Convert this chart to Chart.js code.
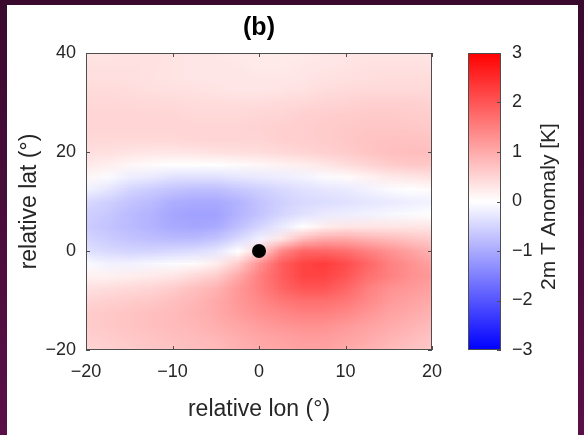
<!DOCTYPE html>
<html lang="en">
<head>
<meta charset="UTF-8">
<title>(b) 2m T Anomaly</title>
<script src="https://cdn.jsdelivr.net/npm/chart.js@4"></script>
<style>
    body {
        margin: 0;
        width: 584px;
        height: 435px;
        overflow: hidden;
        position: relative;
        background: linear-gradient(#3a0a2e, #5a0f48);
    }
    .sheet {
        position: absolute;
        left: 7px;
        top: 5px;
        width: 571px;
        height: 430px;
        background: #ffffff;
    }
    .wrap {
        position: absolute;
        left: 0;
        top: 0;
        width: 584px;
        height: 435px;
    }
</style>
</head>
<body>
<div class="sheet"></div>
<div class="wrap"><canvas id="anomalyChart"></canvas></div>
<script>
// grid of the composite, 2.5 deg spacing
const lonValues = [-20, -17.5, -15, -12.5, -10, -7.5, -5, -2.5, 0, 2.5, 5, 7.5, 10, 12.5, 15, 17.5, 20];
const latValues = [40, 37.5, 35, 32.5, 30, 27.5, 25, 22.5, 20, 17.5, 15, 12.5, 10, 7.5, 5, 2.5, 0, -2.5, -5, -7.5, -10, -12.5, -15, -17.5, -20];
// one row per latitude (north to south), one value per longitude (west to east), in K
const anomalyRows = [
    [0.30, 0.32, 0.35, 0.35, 0.32, 0.30, 0.28, 0.25, 0.25, 0.25, 0.25, 0.28, 0.30, 0.30, 0.30, 0.30, 0.30],
    [0.35, 0.35, 0.35, 0.35, 0.32, 0.30, 0.30, 0.28, 0.25, 0.25, 0.28, 0.30, 0.32, 0.35, 0.35, 0.35, 0.35],
    [0.38, 0.38, 0.36, 0.34, 0.32, 0.30, 0.30, 0.30, 0.28, 0.28, 0.30, 0.34, 0.36, 0.38, 0.40, 0.40, 0.40],
    [0.42, 0.42, 0.40, 0.38, 0.36, 0.35, 0.32, 0.30, 0.30, 0.32, 0.35, 0.40, 0.42, 0.45, 0.45, 0.45, 0.45],
    [0.45, 0.45, 0.45, 0.44, 0.42, 0.40, 0.40, 0.40, 0.40, 0.42, 0.45, 0.50, 0.52, 0.55, 0.55, 0.55, 0.52],
    [0.50, 0.50, 0.50, 0.48, 0.48, 0.45, 0.45, 0.45, 0.48, 0.50, 0.55, 0.58, 0.60, 0.62, 0.62, 0.60, 0.58],
    [0.50, 0.50, 0.50, 0.50, 0.50, 0.50, 0.50, 0.50, 0.52, 0.55, 0.58, 0.60, 0.64, 0.66, 0.66, 0.65, 0.62],
    [0.45, 0.45, 0.45, 0.45, 0.45, 0.48, 0.50, 0.50, 0.50, 0.55, 0.58, 0.60, 0.65, 0.70, 0.72, 0.72, 0.70],
    [0.38, 0.36, 0.32, 0.30, 0.30, 0.32, 0.35, 0.38, 0.40, 0.45, 0.50, 0.55, 0.60, 0.68, 0.74, 0.76, 0.75],
    [0.25, 0.20, 0.10, 0.05, 0.00, 0.00, 0.00, 0.05, 0.10, 0.15, 0.20, 0.30, 0.40, 0.50, 0.60, 0.65, 0.65],
    [0.10, -0.05, -0.20, -0.25, -0.35, -0.35, -0.35, -0.30, -0.25, -0.20, -0.15, -0.05, 0.05, 0.15, 0.25, 0.30, 0.35],
    [-0.15, -0.30, -0.50, -0.60, -0.70, -0.75, -0.75, -0.65, -0.55, -0.45, -0.35, -0.30, -0.25, -0.15, -0.05, 0.00, 0.05],
    [-0.45, -0.55, -0.70, -0.80, -0.95, -1.00, -1.00, -0.90, -0.70, -0.55, -0.45, -0.40, -0.35, -0.30, -0.25, -0.20, -0.15],
    [-0.55, -0.65, -0.80, -0.90, -1.05, -1.10, -1.10, -0.90, -0.70, -0.50, -0.35, -0.25, -0.20, -0.15, -0.10, -0.05, 0.00],
    [-0.60, -0.70, -0.80, -0.90, -1.00, -1.05, -1.00, -0.75, -0.50, -0.25, 0.00, 0.20, 0.30, 0.30, 0.30, 0.30, 0.30],
    [-0.50, -0.60, -0.70, -0.75, -0.80, -0.80, -0.70, -0.45, -0.15, 0.30, 0.80, 1.00, 1.00, 0.90, 0.80, 0.70, 0.60],
    [-0.35, -0.45, -0.50, -0.50, -0.45, -0.40, -0.30, 0.00, 0.50, 1.40, 1.80, 1.80, 1.70, 1.50, 1.30, 1.10, 0.90],
    [-0.05, -0.15, -0.15, -0.10, -0.05, 0.05, 0.20, 0.60, 1.30, 1.90, 2.20, 2.30, 2.10, 1.80, 1.50, 1.30, 1.10],
    [0.15, 0.15, 0.20, 0.25, 0.30, 0.45, 0.60, 1.00, 1.50, 1.90, 2.20, 2.20, 2.00, 1.70, 1.50, 1.30, 1.20],
    [0.35, 0.40, 0.45, 0.50, 0.60, 0.75, 0.90, 1.20, 1.50, 1.80, 2.00, 2.00, 1.80, 1.50, 1.30, 1.20, 1.10],
    [0.50, 0.55, 0.60, 0.65, 0.75, 0.85, 1.00, 1.20, 1.40, 1.60, 1.70, 1.70, 1.60, 1.40, 1.20, 1.10, 1.00],
    [0.60, 0.65, 0.70, 0.75, 0.80, 0.90, 1.00, 1.15, 1.30, 1.40, 1.50, 1.50, 1.40, 1.25, 1.10, 1.00, 0.90],
    [0.60, 0.65, 0.70, 0.75, 0.80, 0.85, 0.95, 1.05, 1.15, 1.25, 1.30, 1.30, 1.20, 1.10, 1.00, 0.90, 0.80],
    [0.55, 0.60, 0.65, 0.70, 0.75, 0.80, 0.85, 0.95, 1.05, 1.10, 1.15, 1.15, 1.10, 1.00, 0.90, 0.80, 0.70],
    [0.50, 0.55, 0.60, 0.65, 0.70, 0.75, 0.80, 0.90, 1.00, 1.05, 1.10, 1.10, 1.00, 0.90, 0.80, 0.70, 0.65]
];
const stormCentre = [{ x: 0, y: 0 }];
const colourLimits = [-3, 3];

const FONT = "'Liberation Sans', Arial, sans-serif";
const TEXT = '#262626';
const EDGE = '#4d4d4d';

// blue - white - red, linear
function anomalyColour(v) {
    const t = Math.max(-1, Math.min(1, v / colourLimits[1]));
    if (t >= 0) {
        const g = Math.round(255 * (1 - t));
        return `rgb(255,${g},${g})`;
    }
    const r = Math.round(255 * (1 + t));
    return `rgb(${r},${r},255)`;
}

// matlab prints a real minus sign
const minusLabel = v => String(v).replace('-', '\u2212');

const fieldPlugin = {
    id: 'field',
    beforeDatasetsDraw(chart) {
        const { ctx, chartArea, scales: { x, y } } = chart;
        const nx = lonValues.length, ny = latValues.length;
        const img = document.createElement('canvas');
        img.width = nx;
        img.height = ny;
        const ictx = img.getContext('2d');
        anomalyRows.forEach((row, j) => row.forEach((v, i) => {
            ictx.fillStyle = anomalyColour(v);
            ictx.fillRect(i, j, 1, 1);
        }));
        const dLon = (lonValues[1] - lonValues[0]) / 2;
        const dLat = (latValues[0] - latValues[1]) / 2;
        const left = x.getPixelForValue(lonValues[0] - dLon);
        const right = x.getPixelForValue(lonValues[nx - 1] + dLon);
        const top = y.getPixelForValue(latValues[0] + dLat);
        const bottom = y.getPixelForValue(latValues[ny - 1] - dLat);
        ctx.save();
        ctx.beginPath();
        ctx.rect(chartArea.left, chartArea.top, chartArea.width, chartArea.height);
        ctx.clip();
        ctx.imageSmoothingEnabled = true;
        ctx.drawImage(img, left, top, right - left, bottom - top);
        ctx.restore();
    },
    afterDatasetsDraw(chart) {
        const { ctx, chartArea: a, scales: { x, y, cb } } = chart;
        const tick = 4;
        ctx.save();
        ctx.strokeStyle = EDGE;
        ctx.lineWidth = 1;
        ctx.strokeRect(a.left + 0.5, a.top + 0.5, a.width - 1, a.height - 1);
        ctx.beginPath();
        x.ticks.forEach(t => {
            const px = Math.round(x.getPixelForValue(t.value)) + 0.5;
            ctx.moveTo(px, a.bottom); ctx.lineTo(px, a.bottom - tick);
            ctx.moveTo(px, a.top); ctx.lineTo(px, a.top + tick);
        });
        y.ticks.forEach(t => {
            const py = Math.round(y.getPixelForValue(t.value)) + 0.5;
            ctx.moveTo(a.left, py); ctx.lineTo(a.left + tick, py);
            ctx.moveTo(a.right, py); ctx.lineTo(a.right - tick, py);
        });
        ctx.stroke();

        // colour bar
        const barLeft = cb.left + 36;
        const barRight = cb.left + 69;
        const barTop = cb.getPixelForValue(colourLimits[1]);
        const barBottom = cb.getPixelForValue(colourLimits[0]);
        const grad = ctx.createLinearGradient(0, barTop, 0, barBottom);
        grad.addColorStop(0, anomalyColour(colourLimits[1]));
        grad.addColorStop(0.5, anomalyColour(0));
        grad.addColorStop(1, anomalyColour(colourLimits[0]));
        ctx.fillStyle = grad;
        ctx.fillRect(barLeft, barTop, barRight - barLeft, barBottom - barTop);
        ctx.strokeRect(barLeft + 0.5, barTop + 0.5, barRight - barLeft - 1, barBottom - barTop - 1);
        ctx.beginPath();
        cb.ticks.forEach(t => {
            const py = Math.round(cb.getPixelForValue(t.value)) + 0.5;
            ctx.moveTo(barRight, py); ctx.lineTo(barRight - tick, py);
        });
        ctx.stroke();

        ctx.translate(cb.left + 117, (barTop + barBottom) / 2 + 5);
        ctx.rotate(-Math.PI / 2);
        ctx.fillStyle = TEXT;
        ctx.font = `21px ${FONT}`;
        ctx.textAlign = 'center';
        ctx.textBaseline = 'middle';
        ctx.fillText('2m T Anomaly [K]', 0, 0);
        ctx.restore();
    }
};

const tickFont = { family: FONT, size: 18 };
const labelFont = { family: FONT, size: 23 };

new Chart(document.getElementById('anomalyChart'), {
    type: 'scatter',
    data: {
        datasets: [{
            data: stormCentre,
            pointRadius: 7,
            pointHoverRadius: 7,
            backgroundColor: '#000000',
            borderWidth: 0
        }]
    },
    options: {
        responsive: true,
        maintainAspectRatio: false,
        animation: false,
        events: [],
        layout: { padding: 0 },
        plugins: {
            legend: { display: false },
            tooltip: { enabled: false },
            title: {
                display: true,
                text: '(b)',
                fullSize: false,
                color: '#000000',
                font: { family: FONT, size: 25, weight: 'bold' },
                padding: { top: 13, bottom: 10 }
            }
        },
        scales: {
            x: {
                type: 'linear',
                min: -20,
                max: 20,
                afterFit: s => { s.height = 85; },
                ticks: { stepSize: 10, color: TEXT, font: tickFont, padding: 11, callback: minusLabel },
                grid: { display: false, drawTicks: false },
                border: { display: false },
                title: { display: true, text: 'relative lon (°)', color: TEXT, font: labelFont, padding: { top: 0, bottom: 12 } }
            },
            y: {
                type: 'linear',
                min: -20,
                max: 40,
                afterFit: s => { s.width = 86; },
                ticks: { stepSize: 20, color: TEXT, font: tickFont, padding: 10, callback: minusLabel },
                grid: { display: false, drawTicks: false },
                border: { display: false },
                title: { display: true, text: 'relative lat (°)', color: TEXT, font: labelFont, padding: { top: 16, bottom: 0 } }
            },
            cb: {
                type: 'linear',
                display: true,
                position: 'right',
                min: colourLimits[0],
                max: colourLimits[1],
                // the wide label gap must not push the plot down
                afterFit: s => { s.width = 152; s.paddingTop = 11; s.paddingBottom = 11; },
                ticks: { stepSize: 1, color: TEXT, font: tickFont, padding: 80, callback: minusLabel },
                grid: { display: false, drawTicks: false },
                border: { display: false }
            }
        }
    },
    plugins: [fieldPlugin]
});
</script>
</body>
</html>
